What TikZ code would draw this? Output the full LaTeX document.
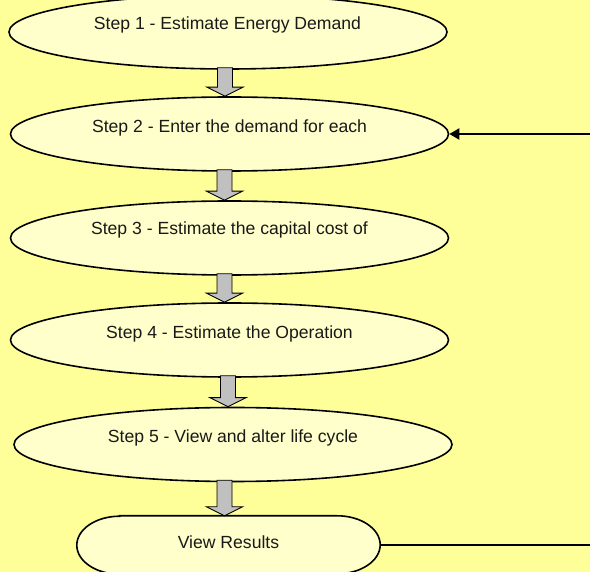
\documentclass[tikz,border=0pt]{standalone}
\usepackage{fontspec}
\setmainfont{Liberation Sans}
\usetikzlibrary{shapes.geometric,arrows.meta,calc}

\definecolor{pagebg}{HTML}{FFFF99}
\definecolor{stepfill}{HTML}{FFFFCC}
\definecolor{arrowgrey}{HTML}{C0C0C0}

\tikzset{
  stepshape/.style={ellipse, draw=black, line width=1.6pt, fill=stepfill,
    minimum width=438pt, minimum height=74pt, inner sep=0pt},
  endshape/.style={rectangle, minimum width=303pt, minimum height=58pt, inner sep=0pt},
  endline/.style={draw=black, line width=1.6pt, fill=stepfill},
  steptext/.style={anchor=base, inner sep=0pt, text=black!90,
    font=\fontsize{17.6pt}{20pt}\selectfont},
  blockarr/.style={draw=black, line width=0.9pt, fill=arrowgrey, line join=miter},
  link/.style={draw=black, line width=2pt},
}

% block arrow pointing down from node #1 to node #2, shaft centred at x = #3
\newcommand\downblock[3]{%
  \path[blockarr] let \p1=(#1.south), \p2=(#2.north) in
    ({#3-7.5pt},{\y1+2pt}) -- ({#3-7.5pt},{\y2+9pt}) -- ({#3-18pt},{\y2+9pt})
    -- (#3,\y2) -- ({#3+18pt},{\y2+9pt}) -- ({#3+7.5pt},{\y2+9pt})
    -- ({#3+7.5pt},{\y1+2pt}) -- cycle;}

\begin{document}
\begin{tikzpicture}[x=1pt,y=-1pt]
  \useasboundingbox (0,0) rectangle (590,572);
  \clip (0,0) rectangle (590,572);
  \fill[pagebg] (0,0) rectangle (590,572);

  % process steps
  \node[stepshape] (s1) at (228,32)    {};
  \node[stepshape] (s2) at (229.5,134) {};
  \node[stepshape] (s3) at (229.5,238) {};
  \node[stepshape] (s4) at (229.5,340) {};
  \node[stepshape] (s5) at (233,444.5) {};
  \node[endshape]  (vr) at (228.5,545) {};

  % terminator outline with elliptic ends
  \path[endline] ($(vr.north west)+(43pt,0)$) -- ($(vr.north east)+(-43pt,0)$)
    arc[start angle=90, end angle=-90, x radius=43pt, y radius=29pt]
    -- ($(vr.south west)+(43pt,0)$)
    arc[start angle=-90, end angle=-270, x radius=43pt, y radius=29pt]
    -- cycle;

  \node[steptext] (t1) at (227.5,29.3)  {Step 1 - Estimate Energy Demand};
  \node[steptext] (t2) at (229.5,132.3) {Step 2 - Enter the demand for each};
  \node[steptext] (t3) at (229.5,235)   {Step 3 - Estimate the capital cost of};
  \node[steptext] (t4) at (229.5,339)   {Step 4 - Estimate the Operation};
  \node[steptext] (t5) at (233,442.3)   {Step 5 - View and alter life cycle};
  \node[steptext] (t6) at (228.5,548)   {View Results};

  % flow between the steps
  \downblock{s1}{s2}{225pt}
  \downblock{s2}{s3}{224.5pt}
  \downblock{s3}{s4}{224.5pt}
  \downblock{s4}{s5}{228pt}
  \downblock{s5}{vr}{224.5pt}

  % feedback loop back into step 2
  \coordinate (loopout) at (590,545);
  \coordinate (loopin)  at (590,134);
  \draw[link] (vr.east) -- (loopout);
  \draw[link, -{Triangle[length=10pt,width=11pt]}] (loopin) -- (s2.east);
\end{tikzpicture}
\end{document}
